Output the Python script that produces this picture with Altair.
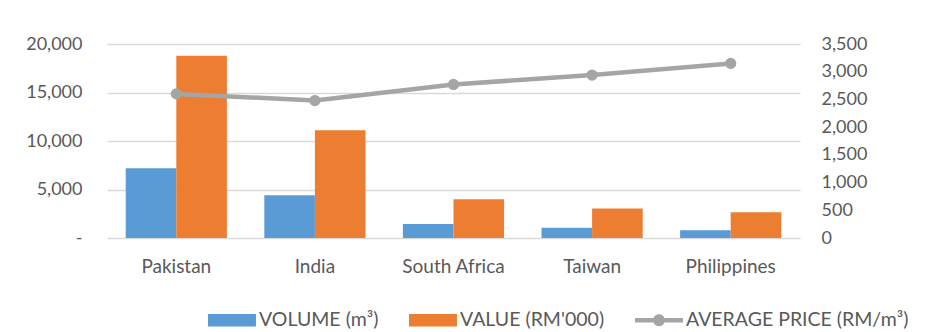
import altair as alt
import pandas as pd

countries = ["Pakistan", "India", "South Africa", "Taiwan", "Philippines"]
volume = [7200, 4400, 1450, 1050, 800]
value = [18800, 11100, 4000, 3050, 2650]
avg_price = [2600, 2480, 2770, 2940, 3150]

series = ["VOLUME (m³)", "VALUE (RM'000)", "AVERAGE PRICE (RM/m³)"]
colors = ["#5B9BD5", "#ED7D31", "#A5A5A5"]
left_ticks = [0, 5000, 10000, 15000, 20000]
right_ticks = [0, 500, 1000, 1500, 2000, 2500, 3000, 3500]

FONT = "Lato"
TXT = "#595959"
GRID = "#D9D9D9"

bars_df = pd.DataFrame(
    [{"country": c, "series": series[0], "amount": v} for c, v in zip(countries, volume)]
    + [{"country": c, "series": series[1], "amount": v} for c, v in zip(countries, value)]
)
price_df = pd.DataFrame({"country": countries, "series": series[2], "price": avg_price})

RECT = "M-1,-0.26H1V0.26H-1Z"
LINEDOT = "M-1,-0.09H1V0.09H-1Z M-0.25,0A0.25,0.25,0,1,1,0.25,0A0.25,0.25,0,1,1,-0.25,0Z"

color_scale = alt.Scale(domain=series, range=colors)


def legend_def():
    return alt.Legend(
        title=None, orient="none", direction="horizontal",
        legendX=101, legendY=252, padding=0,
        labelFont=FONT, labelFontSize=19.5, labelColor=TXT, labelLimit=400,
        labelOffset=3, symbolSize=2300, symbolStrokeWidth=0,
        symbolType=RECT, columnPadding=30,
    )


def x_enc():
    return alt.X(
        "country:N", sort=countries, title=None,
        scale=alt.Scale(paddingInner=0.27, paddingOuter=0.135),
        axis=alt.Axis(labelAngle=0, ticks=False, domain=False, labelPadding=19,
                      labelFont=FONT, labelFontSize=19, labelColor=TXT, grid=False),
    )


def y_right():
    return alt.Y("price:Q", title=None,
                 scale=alt.Scale(domain=[0, 3500], nice=False),
                 axis=alt.Axis(values=right_ticks, orient="right", ticks=False,
                               domain=False, labelPadding=21,
                               labelExpr="format(datum.value, ',')",
                               labelFont=FONT, labelFontSize=18, labelColor=TXT,
                               grid=False))


bars = alt.Chart(bars_df).mark_bar().encode(
    x=x_enc(),
    xOffset=alt.XOffset("series:N", sort=series[:2],
                        scale=alt.Scale(paddingInner=0, paddingOuter=0)),
    y=alt.Y("amount:Q", title=None,
            scale=alt.Scale(domain=[0, 20000], nice=False),
            axis=alt.Axis(values=left_ticks, ticks=False, domain=False,
                          labelPadding=25, labelFont=FONT, labelFontSize=18,
                          labelColor=TXT, grid=True, gridColor=GRID, gridWidth=1.3,
                          labelExpr="datum.value == 0 ? '-\u00a0\u00a0\u00a0\u00a0\u00a0\u00a0' : format(datum.value, ',')")),
    color=alt.Color("series:N", scale=color_scale, legend=legend_def()),
)

line = alt.Chart(price_df).mark_line(color="#A5A5A5", strokeWidth=4.5).encode(
    x=x_enc(), y=y_right(),
)
points = alt.Chart(price_df).mark_point(filled=True, size=125, opacity=1,
                                        color="#A5A5A5").encode(
    x=x_enc(), y=y_right(),
)
legend_helper = alt.Chart(price_df).transform_filter("datum.price < 0").mark_point(
    filled=True, opacity=1).encode(
    x=x_enc(), y=y_right(),
    color=alt.Color("series:N", scale=color_scale, legend=legend_def()),
    shape=alt.Shape("series:N", scale=alt.Scale(domain=series, range=[RECT, RECT, LINEDOT]),
                    legend=legend_def()),
)

right = alt.layer(line, points, legend_helper)

chart = alt.layer(bars, right).resolve_scale(y="independent").properties(
    width=693, height=194,
    padding={"left": 99, "top": 36, "right": 118, "bottom": 92},
    autosize=alt.AutoSizeParams(type="none"),
).configure_view(stroke=None)

chart.save("out.html", embed_options={"renderer": "svg", "actions": False})
